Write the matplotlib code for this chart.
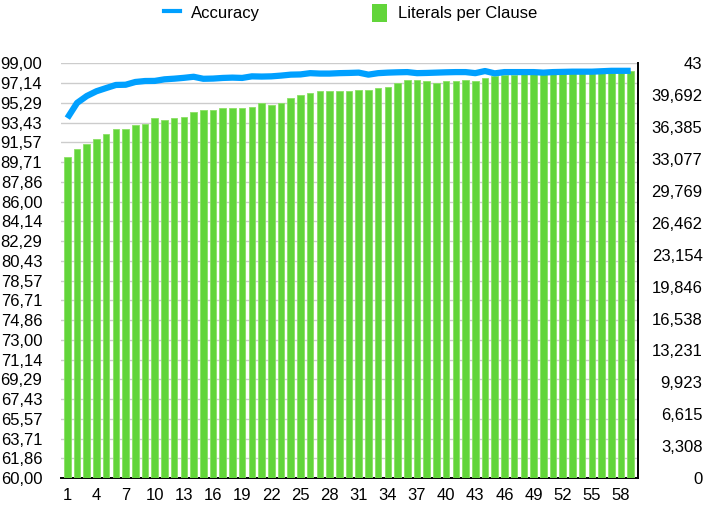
import matplotlib
matplotlib.use("Agg")
import matplotlib.pyplot as plt
from matplotlib.lines import Line2D
from matplotlib.patches import Patch

plt.rcParams['font.family'] = ['Liberation Sans', 'DejaVu Sans']

# ---- data ----
iterations = list(range(1, 60))
accuracy = [93.85, 95.28, 95.93, 96.38, 96.68, 96.97, 96.99, 97.25, 97.34, 97.35,
            97.50, 97.56, 97.64, 97.74, 97.55, 97.57, 97.63, 97.66, 97.63, 97.78,
            97.76, 97.78, 97.85, 97.94, 97.96, 98.08, 98.04, 98.04, 98.08, 98.10,
            98.13, 97.94, 98.08, 98.13, 98.16, 98.18, 98.08, 98.10, 98.13, 98.16,
            98.18, 98.18, 98.08, 98.28, 98.06, 98.18, 98.18, 98.18, 98.18, 98.13,
            98.18, 98.20, 98.22, 98.22, 98.22, 98.26, 98.30, 98.30, 98.30]
literals = [33.25, 34.10, 34.63, 35.15, 35.67, 36.20, 36.20, 36.60, 36.70, 37.30,
            37.10, 37.30, 37.43, 37.95, 38.16, 38.16, 38.37, 38.37, 38.37, 38.50,
            38.88, 38.67, 38.88, 39.40, 39.70, 39.92, 40.10, 40.10, 40.10, 40.10,
            40.24, 40.24, 40.44, 40.60, 40.96, 41.30, 41.30, 41.13, 40.96, 41.13,
            41.13, 41.30, 41.13, 41.48, 41.70, 41.80, 41.80, 41.90, 41.90, 41.90,
            42.00, 42.00, 42.00, 42.00, 42.10, 42.10, 42.10, 42.20, 42.20]
x_ticks = list(range(1, 60, 3))
left_ticks = [60.00, 61.86, 63.71, 65.57, 67.43, 69.29, 71.14, 73.00, 74.86, 76.71,
              78.57, 80.43, 82.29, 84.14, 86.00, 87.86, 89.71, 91.57, 93.43, 95.29,
              97.14, 99.00]
left_labels = ["60,00", "61,86", "63,71", "65,57", "67,43", "69,29", "71,14", "73,00",
               "74,86", "76,71", "78,57", "80,43", "82,29", "84,14", "86,00", "87,86",
               "89,71", "91,57", "93,43", "95,29", "97,14", "99,00"]
right_ticks = [0, 3.308, 6.615, 9.923, 13.231, 16.538, 19.846, 23.154, 26.462,
               29.769, 33.077, 36.385, 39.692, 43]
right_labels = ["0", "3,308", "6,615", "9,923", "13,231", "16,538", "19,846", "23,154",
                "26,462", "29,769", "33,077", "36,385", "39,692", "43"]

BLUE = '#00A0FF'
GREEN = '#62D53A'
FS = 12

fig = plt.figure(figsize=(7.08, 5.07), dpi=100)
ax = fig.add_axes([0.0862, 0.0572, 0.8149, 0.8178])
ax2 = ax.twinx()
ax3 = ax.twinx()

# grid axis (left scale)
ax.set_ylim(60, 99)
ax.set_yticks(left_ticks)
ax.set_yticklabels(left_labels, fontsize=FS)
ax.grid(axis='y', color='#CCCCCC', linewidth=1.0)
ax.set_axisbelow(True)
ax.tick_params(axis='y', length=0, pad=13.5)
ax.set_xlim(0.35, 59.75)
ax.set_xticks(x_ticks)
ax.set_xticklabels([str(t) for t in x_ticks], fontsize=FS)
ax.tick_params(axis='x', length=0, pad=7)
for s in ['top', 'left', 'right']:
    ax.spines[s].set_visible(False)
ax.spines['bottom'].set_linewidth(1.4)
ax.spines['bottom'].set_zorder(5)

# bars (right scale)
ax2.bar(iterations, literals, width=0.68, color=GREEN, edgecolor='#8BE065',
        linewidth=0.6, zorder=2)
ax2.set_ylim(0, 43)
ax2.set_yticks(right_ticks)
ax2.set_yticklabels(right_labels, fontsize=FS, ha='right')
ax2.tick_params(axis='y', length=0, pad=46.5)
for s in ['top', 'left', 'bottom']:
    ax2.spines[s].set_visible(False)
ax2.spines['right'].set_linewidth(1.4)

# accuracy line (left scale)
ax3.plot(iterations, accuracy, color=BLUE, linewidth=4.5, solid_capstyle='butt',
         solid_joinstyle='round')
ax3.set_ylim(60, 99)
ax3.set_yticks([])
for s in ax3.spines.values():
    s.set_visible(False)

handles = [Line2D([0], [0], color=BLUE, lw=3.0),
           Patch(facecolor=GREEN, edgecolor='none')]
fig.legend(handles, ['Accuracy', 'Literals per Clause'], loc='center left',
           bbox_to_anchor=(0.232, 0.975), ncol=2, frameon=False, fontsize=FS,
           handlelength=0.95, handleheight=1.3, handletextpad=0.65,
           columnspacing=6.7, borderaxespad=0, borderpad=0)

fig.savefig('out.png', dpi=100)
